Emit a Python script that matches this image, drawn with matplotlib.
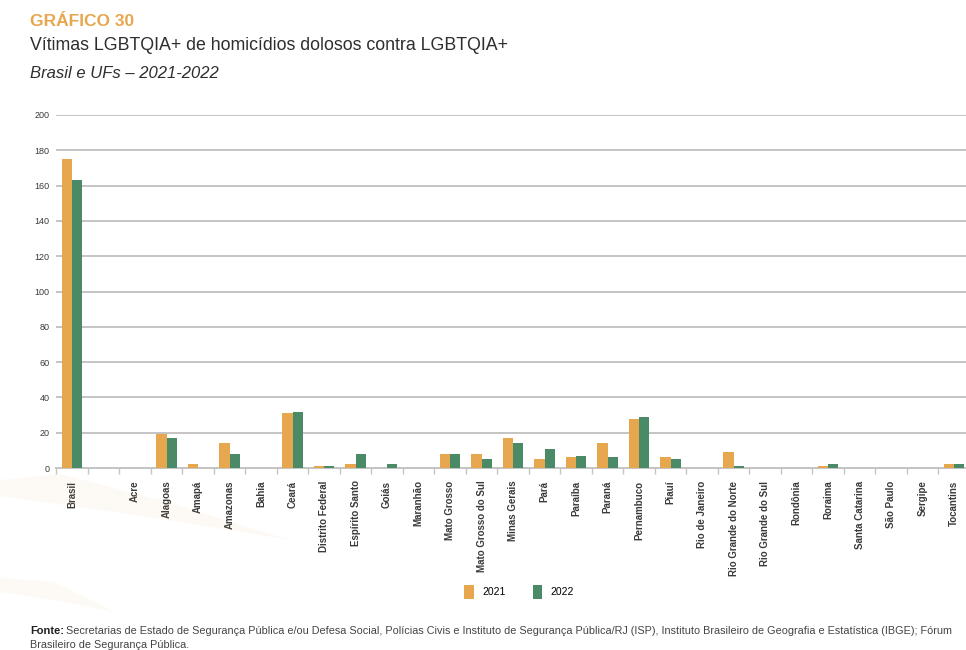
import matplotlib
matplotlib.use("Agg")
import matplotlib.pyplot as plt
from matplotlib.patches import Patch, Polygon
import numpy as np

plt.rcParams['font.family'] = ['Liberation Sans Narrow', 'Liberation Sans', 'DejaVu Sans']

categories = ["Brasil", "", "Acre", "Alagoas", "Amapá", "Amazonas", "Bahia", "Ceará",
              "Distrito Federal", "Espírito Santo", "Goiás", "Maranhão", "Mato Grosso",
              "Mato Grosso do Sul", "Minas Gerais", "Pará", "Paraíba", "Paraná",
              "Pernambuco", "Piauí", "Rio de Janeiro", "Rio Grande do Norte",
              "Rio Grande do Sul", "Rondônia", "Roraima", "Santa Catarina",
              "São Paulo", "Sergipe", "Tocantins"]
v2021 = [175, 0, 0, 19, 2, 14, 0, 31, 1, 2, 0, 0, 8, 8, 17, 5, 6, 14, 28, 6, 0, 9, 0, 0, 1, 0, 0, 0, 2]
v2022 = [163, 0, 0, 17, 0, 8, 0, 32, 1, 8, 2, 0, 8, 5, 14, 11, 7, 6, 29, 5, 0, 1, 0, 0, 2, 0, 0, 0, 2]
series_labels = ["2021", "2022"]
yticks = [0, 20, 40, 60, 80, 100, 120, 140, 160, 180, 200]

ORANGE = "#E6A74F"
GREEN = "#4B8A67"
GRID = "#C4C4C4"
TEXT = "#3A3A3A"

W, H = 966, 650
fig = plt.figure(figsize=(W / 100, H / 100), dpi=100)


def px(xp, yp):
    """Pixel position (from top-left) to figure fraction."""
    return xp / W, 1 - yp / H


# faint decorative swooshes in the lower-left corner
for pts, alpha in [([(0, 480), (60, 474), (170, 503), (290, 540), (150, 517), (0, 496)], 0.06),
                   ([(0, 578), (55, 582), (115, 612), (65, 602), (0, 592)], 0.05)]:
    fig.patches.append(Polygon([px(a, b) for a, b in pts], closed=True,
                               transform=fig.transFigure, facecolor=ORANGE,
                               edgecolor='none', alpha=alpha, zorder=0))

# plot area in pixel units (left, bottom, width, height)
ax = fig.add_axes([56.3 / W, (H - 468) / H, 913.5 / W, 353 / H])
ax.patch.set_alpha(0)

x = np.arange(len(categories))
bw = 0.33
ax.bar(x - bw / 2, v2021, width=bw, color=ORANGE, zorder=3)
ax.bar(x + bw / 2, v2022, width=bw, color=GREEN, zorder=3)

ax.set_xlim(-0.5, len(categories) - 0.5)
ax.set_ylim(0, 200)
ax.set_yticks(yticks)
ax.set_yticklabels([str(t) for t in yticks], fontsize=6.5, color=TEXT)
ax.yaxis.grid(True, color=GRID, linewidth=1.4, zorder=0)
ax.tick_params(axis='y', length=0, pad=5)

# category ticks sit on the slot boundaries
ax.set_xticks(np.arange(len(categories) + 1) - 0.5, minor=False)
ax.set_xticklabels([])
ax.tick_params(axis='x', which='major', length=4, color=GRID, width=1)
ax.set_xticks(x, minor=True)
ax.set_xticklabels(categories, minor=True, rotation=90, fontsize=7, color=TEXT,
                   fontweight='bold')
ax.tick_params(axis='x', which='minor', length=0, pad=9)

for s in ["top", "right", "left"]:
    ax.spines[s].set_visible(False)
ax.spines["bottom"].set_color(GRID)
ax.spines["bottom"].set_linewidth(1.4)

# headings
fig.text(*px(30, 21), "GRÁFICO 30", color=ORANGE, fontsize=12.5,
         fontweight='bold', va='center', ha='left')
fig.text(*px(30, 46), "Vítimas LGBTQIA+ de homicídios dolosos contra LGBTQIA+",
         color="#2E2E2E", fontsize=12.8, va='center', ha='left')
fig.text(*px(30, 74), "Brasil e UFs – 2021-2022", color="#2E2E2E",
         fontsize=12, style='italic', va='center', ha='left')

# legend
handles = [Patch(facecolor=ORANGE), Patch(facecolor=GREEN)]
fig.legend(handles, series_labels, loc='center', bbox_to_anchor=px(519, 592),
           ncol=2, frameon=False, fontsize=7.5, handlelength=0.9, handleheight=1.6,
           columnspacing=2.6, handletextpad=0.8)

# source note: bold label followed by the source list on the same line
label = fig.text(*px(30, 631), "Fonte:", color="#222222", fontsize=8,
                 fontweight='bold', va='center', ha='left')
renderer = fig.canvas.get_renderer()
lbl_right = label.get_window_extent(renderer).x1
fig.text(lbl_right / W + 2 / W, 1 - 631 / H,
         "Secretarias de Estado de Segurança Pública e/ou Defesa Social, Polícias Civis e "
         "Instituto de Segurança Pública/RJ (ISP), Instituto Brasileiro de Geografia e "
         "Estatística (IBGE); Fórum",
         color="#444444", fontsize=7.8, va='center', ha='left')
fig.text(*px(30, 645), "Brasileiro de Segurança Pública.", color="#444444",
         fontsize=7.8, va='center', ha='left')

fig.savefig("out.png", dpi=100)
